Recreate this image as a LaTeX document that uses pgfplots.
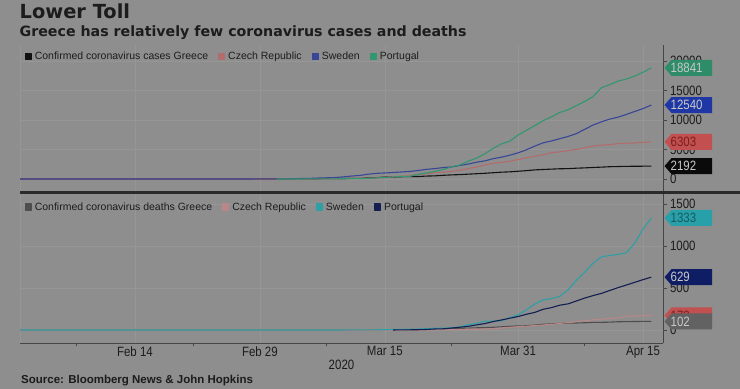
\documentclass[border=0pt]{standalone}
\usepackage{fontspec}
\setmainfont{Liberation Sans}
\newfontfamily\dejavu{DejaVu Sans}
\newfontfamily\narrow{Liberation Sans}[FakeStretch=0.85]
\usepackage{pgfplots}
\pgfplotsset{compat=1.18}

\definecolor{bg}{RGB}{142,142,142}
\definecolor{txt}{RGB}{28,28,28}
\definecolor{gridc}{RGB}{150,150,150}
\definecolor{axisc}{RGB}{70,70,70}
\definecolor{sepc}{RGB}{42,42,42}
\definecolor{grc}{RGB}{18,18,18}
\definecolor{czc}{RGB}{178,108,108}
\definecolor{sec}{RGB}{55,70,150}
\definecolor{ptc}{RGB}{50,150,110}
\definecolor{grd}{RGB}{78,78,78}
\definecolor{czd}{RGB}{185,135,135}
\definecolor{sed}{RGB}{45,160,165}
\definecolor{ptd}{RGB}{20,30,80}
\definecolor{bxgreen}{RGB}{46,140,105}
\definecolor{bxblue}{RGB}{30,55,165}
\definecolor{bxred}{RGB}{195,80,80}
\definecolor{bxblack}{RGB}{10,10,10}
\definecolor{bxteal}{RGB}{40,160,170}
\definecolor{bxnavy}{RGB}{15,30,100}
\definecolor{bxgray}{RGB}{98,98,98}
\definecolor{lt}{RGB}{200,200,200}
\definecolor{dkred}{RGB}{120,30,30}
\definecolor{dkteal}{RGB}{25,90,95}

\newcommand{\tickfont}{\narrow\fontsize{13.5bp}{15bp}\selectfont}
\newcommand{\legfont}{\fontsize{10.5bp}{12bp}\selectfont}
\newcommand{\callout}[4]{%
  \fill[#2] ([xshift=1.5bp]#1) -- ++(7bp,8bp) -- ++(40.5bp,0bp) -- ++(0bp,-16bp) -- ++(-40.5bp,0bp) -- cycle;
  \node[text=#3, font=\tickfont, inner sep=0pt, anchor=west] at ([xshift=7.5bp]#1) {#4};
}

\pgfplotsset{panel/.style={
  scale only axis, width=643bp,
  xmin=-13.8, xmax=63.4,
  axis y line*=right, axis x line*=bottom,
  axis line style={draw=axisc, line width=0.9bp},
  xtick={-7,7,23,38,54}, xticklabels={},
  extra x ticks={-13.8,0,15,30,46,61},
  extra x tick style={grid=major, major tick length=0pt},
  grid style={draw=gridc, line width=0.6bp},
  ymajorgrids,
  major tick length=3.5bp,
  tick align=outside,
  tick style={draw=axisc, line width=0.8bp},
  scaled y ticks=false,
  /pgf/number format/assume math mode=true,
  /pgf/number format/1000 sep={},
  yticklabel style={font=\tickfont, text=txt},
  xticklabel style={font=\tickfont, text=txt},
  every axis plot/.append style={line width=1.1bp, line join=round, mark=none},
  legend image code/.code={\fill[##1] (0bp,-3bp) rectangle (6bp,3bp);},
  legend cell align=left,
  legend style={draw=none, fill=none, font=\legfont, text=txt,
    legend columns=-1, inner sep=0pt,
    nodes={inner xsep=0pt, inner ysep=1pt},
    /tikz/every odd column/.append style={column sep=3bp},
    /tikz/every even column/.append style={column sep=10bp}},
}}

\begin{document}
\begin{tikzpicture}
\fill[bg] (0bp,0bp) rectangle (740bp,389bp);

\node[anchor=base west, inner sep=0pt, text=txt] at (19.5bp,370.5bp) {\dejavu\bfseries\fontsize{19.4bp}{22bp}\selectfont Lower Toll};
\node[anchor=base west, inner sep=0pt, text=txt] at (19.5bp,352.5bp) {\dejavu\bfseries\fontsize{14.2bp}{16bp}\selectfont Greece has relatively few coronavirus cases and deaths};

% ---------- top panel: cases ----------
\begin{axis}[panel, height=147.7bp,
  ymin=-2322, ymax=22712, ytick={0,5000,10000,15000,20000},
  x axis line style={draw=none}, extra x tick labels={},
  xtick style={draw=none},
  legend style={at={(rel axis cs:0.007,0.925)}, anchor=west},
  at={(20bp,196.3bp)}, anchor=south west]
\addplot[color=grc] coordinates {(-14,0)(11,0)(12,1)(13,3)(14,4)(15,7)(16,7)(17,7)(18,7)(19,9)(20,31)(21,45)(22,46)(23,73)(24,73)(25,89)(26,99)(27,99)(28,190)(29,228)(30,331)(31,331)(32,387)(33,418)(34,418)(35,495)(36,530)(37,624)(38,695)(39,743)(40,821)(41,892)(42,966)(43,1061)(44,1156)(45,1212)(46,1314)(47,1415)(48,1544)(49,1613)(50,1673)(51,1735)(52,1755)(53,1832)(54,1884)(55,1955)(56,2011)(57,2081)(58,2114)(59,2145)(60,2160)(61,2170)(62,2192)};
\addplot[color=czc] coordinates {(-14,0)(15,0)(16,3)(17,3)(18,5)(19,5)(20,8)(21,19)(22,26)(23,32)(24,38)(25,63)(26,94)(27,116)(28,141)(29,189)(30,298)(31,383)(32,450)(33,560)(34,765)(35,889)(36,1047)(37,1161)(38,1287)(39,1472)(40,1763)(41,2022)(42,2395)(43,2657)(44,2817)(45,3001)(46,3308)(47,3589)(48,3858)(49,4091)(50,4472)(51,4587)(52,4822)(53,5017)(54,5312)(55,5569)(56,5732)(57,5831)(58,5991)(59,6059)(60,6111)(61,6216)(62,6303)};
\addplot[color=sec] coordinates {(-14,1)(11,1)(12,2)(13,7)(14,7)(15,12)(16,14)(17,15)(18,21)(19,35)(20,94)(21,101)(22,161)(23,203)(24,248)(25,355)(26,500)(27,599)(28,814)(29,961)(30,1022)(31,1103)(32,1190)(33,1279)(34,1439)(35,1639)(36,1763)(37,1934)(38,2046)(39,2286)(40,2526)(41,2840)(42,3069)(43,3447)(44,3700)(45,4028)(46,4435)(47,4947)(48,5568)(49,6131)(50,6443)(51,6830)(52,7206)(53,7693)(54,8419)(55,9141)(56,9685)(57,10151)(58,10483)(59,10948)(60,11445)(61,11927)(62,12540)};
\addplot[color=ptc] coordinates {(17,2)(18,2)(19,5)(20,8)(21,13)(22,20)(23,30)(24,30)(25,41)(26,59)(27,59)(28,112)(29,169)(30,245)(31,331)(32,448)(33,448)(34,785)(35,1020)(36,1280)(37,1600)(38,2060)(39,2362)(40,2995)(41,3544)(42,4268)(43,5170)(44,5962)(45,6408)(46,7443)(47,8251)(48,9034)(49,9886)(50,10524)(51,11278)(52,11730)(53,12442)(54,13141)(55,13956)(56,15472)(57,15987)(58,16585)(59,16934)(60,17448)(61,18091)(62,18841)};
\legend{Confirmed coronavirus cases Greece, Czech Republic, Sweden, Portugal}
\coordinate (c1) at (axis cs:63.4,18841);
\coordinate (c2) at (axis cs:63.4,12540);
\coordinate (c3) at (axis cs:63.4,6303);
\coordinate (c4) at (axis cs:63.4,2192);
\end{axis}

% ---------- bottom panel: deaths ----------
\begin{axis}[panel, height=150.3bp,
  ymin=-155, ymax=1634, ytick={0,500,1000,1500},
  extra x tick labels={,Feb 14,Feb 29,Mar 15,Mar 31,Apr 15},
  legend style={at={(rel axis cs:0.007,0.905)}, anchor=west},
  at={(20bp,46bp)}, anchor=south west]
\addplot[color=grd] coordinates {(-14,0)(26,0)(27,1)(28,1)(29,3)(30,4)(31,4)(32,5)(33,5)(34,5)(35,6)(36,13)(37,15)(38,17)(39,20)(40,22)(41,26)(42,28)(43,32)(44,38)(45,43)(46,49)(47,50)(48,59)(49,68)(50,73)(51,79)(52,81)(53,83)(54,86)(55,90)(56,91)(57,93)(58,98)(59,99)(60,101)(61,102)(62,102)};
\addplot[color=czd] coordinates {(-14,0)(36,0)(37,1)(38,3)(39,6)(40,9)(41,9)(42,11)(43,16)(44,23)(45,31)(46,39)(47,44)(48,53)(49,59)(50,67)(51,78)(52,88)(53,99)(54,112)(55,119)(56,129)(57,138)(58,143)(59,161)(60,166)(61,169)(62,173)};
\addplot[color=sed] coordinates {(-14,0)(25,0)(26,1)(27,1)(28,1)(29,2)(30,3)(31,6)(32,7)(33,10)(34,11)(35,16)(36,20)(37,21)(38,25)(39,36)(40,62)(41,77)(42,105)(43,105)(44,110)(45,146)(46,180)(47,239)(48,308)(49,358)(50,373)(51,401)(52,477)(53,591)(54,687)(55,793)(56,870)(57,887)(58,899)(59,919)(60,1033)(61,1203)(62,1333)};
\addplot[color=ptd] coordinates {(31,0)(32,1)(33,2)(34,3)(35,6)(36,12)(37,14)(38,23)(39,33)(40,43)(41,60)(42,76)(43,100)(44,119)(45,140)(46,160)(47,187)(48,209)(49,246)(50,266)(51,295)(52,311)(53,345)(54,380)(55,409)(56,435)(57,470)(58,504)(59,535)(60,567)(61,599)(62,629)};
\legend{Confirmed coronavirus deaths Greece, Czech Republic, Sweden, Portugal}
\coordinate (d1) at (axis cs:63.4,1333);
\coordinate (d2) at (axis cs:63.4,629);
\coordinate (d3) at (axis cs:63.4,173);
\coordinate (d4) at (axis cs:63.4,102);
\end{axis}

\fill[sepc] (20bp,194.8bp) rectangle (740bp,197.8bp);

\callout{c1}{bxgreen}{lt}{18841}
\callout{c2}{bxblue}{lt}{12540}
\callout{c3}{bxred}{dkred}{6303}
\callout{c4}{bxblack}{lt}{2192}
\callout{d1}{bxteal}{dkteal}{1333}
\callout{d2}{bxnavy}{lt}{629}
\callout{d3}{bxred}{dkred}{173}
\callout{d4}{bxgray}{lt}{102}

\node[anchor=base, inner sep=0pt, text=txt, font=\tickfont] at (341.5bp,19.5bp) {2020};
\node[anchor=base west, inner sep=0pt, text=txt] at (21bp,5.5bp) {\bfseries\fontsize{11.5bp}{13bp}\selectfont Source: Bloomberg News \& John Hopkins};
\end{tikzpicture}
\end{document}
